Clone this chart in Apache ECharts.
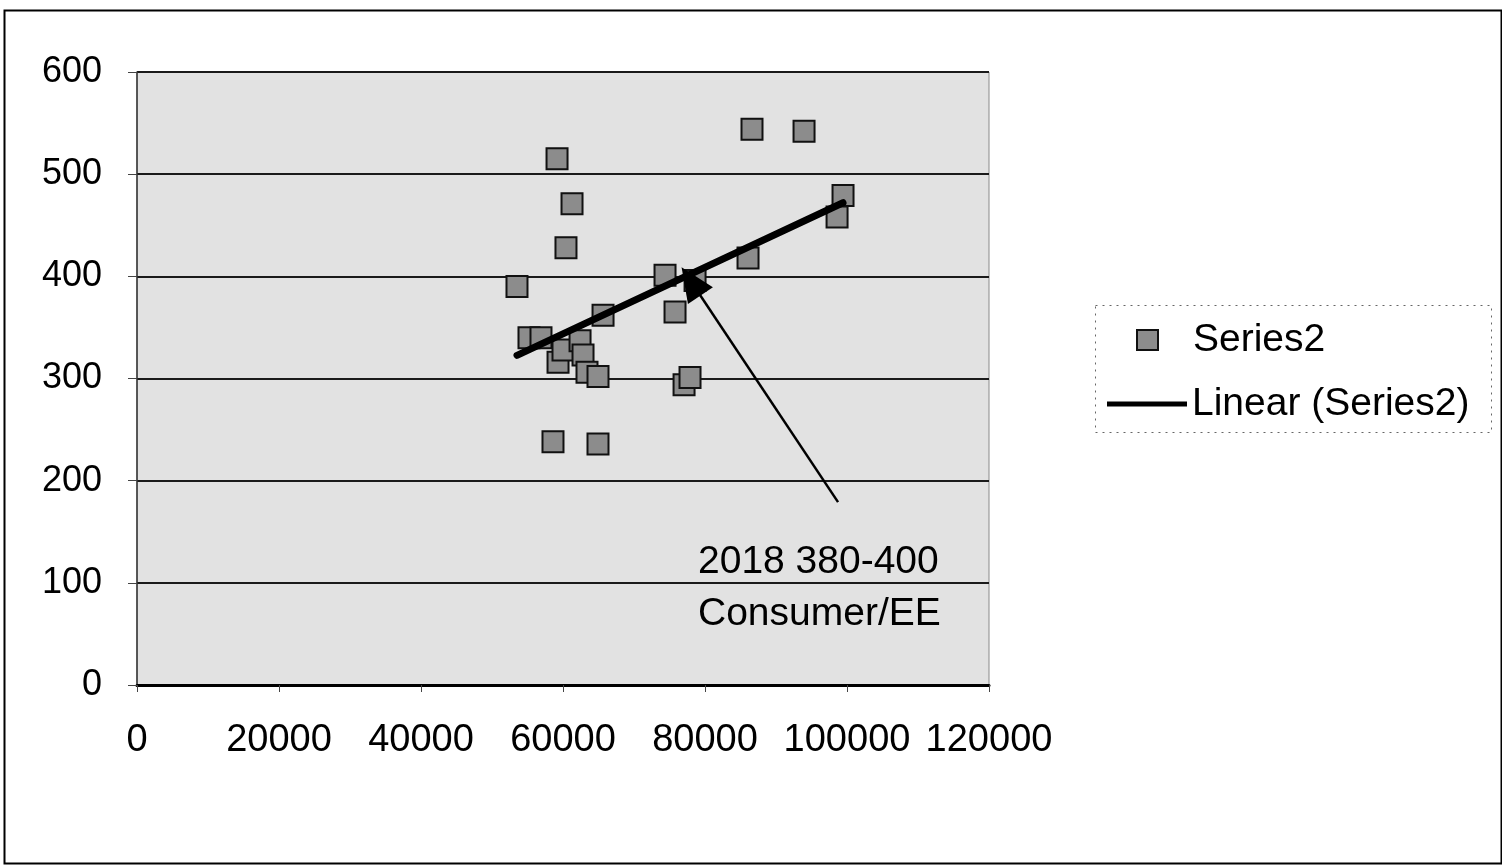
<!DOCTYPE html>
<html>
<head>
<meta charset="utf-8">
<script src="https://cdn.jsdelivr.net/npm/echarts@6/dist/echarts.min.js"></script>
<style>
html,body{margin:0;padding:0;background:#fff;}
#chart{width:1502px;height:866px;}
</style>
</head>
<body>
<div id="chart"></div>
<script>
// ---- data ----
const seriesName = 'Series2';
const trendName = 'Linear (Series2)';
const xValues = [53520, 59160, 61270, 60420, 55210, 56900, 59300, 60000, 62400, 62820, 63380, 64930, 65640, 58590, 64930, 74370, 75780, 78600, 77050, 77890, 86620, 93950, 86060, 99440, 98600];
const yValues = [390, 515, 471, 428, 340, 340, 316, 328, 337, 323, 306, 302, 362, 238, 236, 401, 365, 396, 294, 301, 544, 542, 418, 479, 458];
const xTickLabels = ['0', '20000', '40000', '60000', '80000', '100000', '120000'];
const yTickLabels = ['0', '100', '200', '300', '400', '500', '600'];
const annotationText = ['2018 380-400', 'Consumer/EE'];
const arrowTail = [98740, 179];
const arrowHead = [78030, 395];

// ---- linear trend (least squares) over the scatter data ----
const n = xValues.length;
const mx = xValues.reduce((a, b) => a + b, 0) / n;
const my = yValues.reduce((a, b) => a + b, 0) / n;
let sxy = 0, sxx = 0;
for (let i = 0; i < n; i++) {
  sxy += (xValues[i] - mx) * (yValues[i] - my);
  sxx += (xValues[i] - mx) * (xValues[i] - mx);
}
const slope = sxy / sxx;
const intercept = my - slope * mx;
const xMin = Math.min(...xValues), xMax = Math.max(...xValues);
const trendData = [[xMin, intercept + slope * xMin], [xMax, intercept + slope * xMax]];

const scatterData = xValues.map((x, i) => [x, yValues[i]]);
const FONT = "'Liberation Sans', Arial, sans-serif";

const chart = echarts.init(document.getElementById('chart'), null, {renderer: 'canvas'});
chart.setOption({
  backgroundColor: '#ffffff',
  animation: false,
  textStyle: {fontFamily: FONT, color: '#000'},
  grid: {
    left: 137, right: 513, top: 72, bottom: 181,
    show: true, backgroundColor: '#e2e2e2', borderColor: '#8a8a8a', borderWidth: 1,
    containLabel: false
  },
  xAxis: {
    type: 'value', min: 0, max: 120000, interval: 20000,
    axisLine: {show: true, onZero: false, lineStyle: {color: '#000', width: 3}},
    axisTick: {show: true, inside: false, length: 7, lineStyle: {color: '#444', width: 1}},
    axisLabel: {
      fontSize: 38, fontFamily: FONT, color: '#000', margin: 37,
      formatter: v => xTickLabels[Math.round(v / 20000)] ?? String(v)
    },
    splitLine: {show: false}
  },
  yAxis: {
    type: 'value', min: 0, max: 600, interval: 100,
    axisLine: {show: true, onZero: false, lineStyle: {color: '#333', width: 1.5}},
    axisTick: {show: true, inside: false, length: 9, lineStyle: {color: '#444', width: 1}},
    axisLabel: {
      fontSize: 36, fontFamily: FONT, color: '#000', margin: 35,
      formatter: v => yTickLabels[Math.round(v / 100)] ?? String(v)
    },
    splitLine: {show: true, lineStyle: {color: '#1a1a1a', width: 2}}
  },
  legend: [
    {
      data: [{name: seriesName, icon: 'rect'}],
      left: 1136, top: 320, orient: 'vertical', padding: 0,
      itemWidth: 21, itemHeight: 20, selectedMode: false,
      textStyle: {fontSize: 39, fontFamily: FONT, color: '#000', lineHeight: 40, padding: [0, 0, 0, 30]}
    },
    {
      data: [{name: trendName, icon: 'rect'}],
      left: 1107, top: 384, orient: 'vertical', padding: 0,
      itemWidth: 80, itemHeight: 5, selectedMode: false,
      textStyle: {fontSize: 39, fontFamily: FONT, color: '#000', lineHeight: 40}
    }
  ],
  series: [
    {
      name: seriesName, type: 'scatter', data: scatterData,
      symbol: 'rect', symbolSize: 21, z: 3,
      itemStyle: {color: '#8c8c8c', borderColor: '#111', borderWidth: 2, opacity: 1}
    },
    {
      name: trendName, type: 'line', data: trendData,
      showSymbol: false, symbol: 'none', z: 4,
      lineStyle: {color: '#000', width: 7, cap: 'round'},
      itemStyle: {color: '#000'},
      markLine: {
        silent: true, symbol: ['none', 'triangle'], symbolSize: [30, 34],
        label: {show: false},
        lineStyle: {color: '#000', width: 2.5, type: 'solid'},
        data: [[{coord: arrowTail}, {coord: arrowHead}]]
      }
    }
  ],
  graphic: [
    {
      type: 'rect', left: 2, top: 8, z: -10, silent: true,
      shape: {width: 1497, height: 853},
      style: {fill: 'none', stroke: '#000', lineWidth: 2}
    },
    {
      type: 'rect', left: 1093, top: 303, silent: true,
      shape: {width: 396, height: 127},
      style: {fill: 'none', stroke: '#666', lineWidth: 1, lineDash: [2, 5]}
    },
    {
      type: 'text', left: 698, top: 536, silent: true, z: 10,
      style: {text: annotationText.join('\n'), fontSize: 39, fontFamily: FONT, fill: '#000', lineHeight: 52}
    }
  ]
});
</script>
</body>
</html>
